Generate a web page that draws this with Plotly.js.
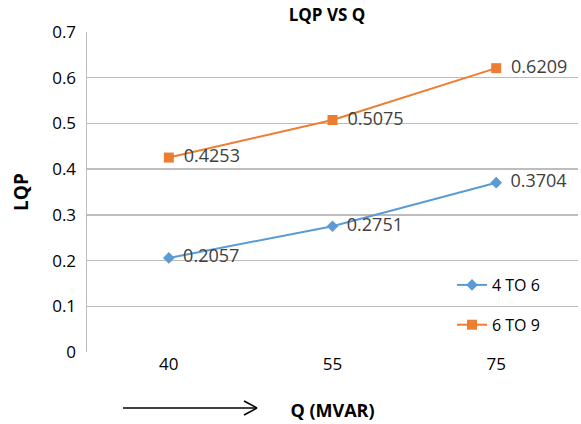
<!DOCTYPE html>
<html><head><meta charset="utf-8">
<script src="https://cdn.plot.ly/plotly-3.0.1.min.js"></script>
<style>html,body{margin:0;padding:0;background:#fff}#c{width:581px;height:424px}</style>
</head><body><div id="c"></div>
<script>
const categories = ["40", "55", "75"];
const series1Name = "4 TO 6";
const series1 = [0.2057, 0.2751, 0.3704];
const series2Name = "6 TO 9";
const series2 = [0.4253, 0.5075, 0.6209];
const yTicks = [0, 0.1, 0.2, 0.3, 0.4, 0.5, 0.6, 0.7];
const yTickText = ["0", "0.1", "0.2", "0.3", "0.4", "0.5", "0.6", "0.7"];

const W = 581, H = 424, mL = 87, mR = 3, mT = 32, mB = 72;
const pw = W - mL - mR, ph = H - mT - mB;
const px = x => (x - mL) / pw;
const py = y => (H - mB - y) / ph;
const fnt = "Open Sans, Liberation Sans, sans-serif";
const lbl = v => "\u00a0\u2009" + v.toFixed(4);

const traces = [
  {x: categories, y: series1, name: series1Name, type: "scatter", mode: "lines+markers+text",
   legendgroup: "a",
   line: {color: "#5B9BD5", width: 2}, marker: {symbol: "diamond", size: 9, color: "#5B9BD5"},
   text: series1.map(lbl), textposition: "middle right",
   textfont: {size: 18, color: "#404040", family: fnt}, cliponaxis: false},
  {x: categories, y: series2, name: series2Name, type: "scatter", mode: "lines+markers+text",
   legendgroup: "b",
   line: {color: "#ED7D31", width: 2}, marker: {symbol: "square", size: 10, color: "#ED7D31"},
   text: series2.map(lbl), textposition: "middle right",
   textfont: {size: 18, color: "#404040", family: fnt}, cliponaxis: false}
];

const layout = {
  width: W, height: H,
  margin: {l: mL, r: mR, t: mT, b: mB},
  paper_bgcolor: "#fff", plot_bgcolor: "#fff",
  font: {family: fnt, color: "#000"},
  title: {text: "<b>LQP VS Q</b>", font: {size: 17, color: "#000", family: fnt},
          xref: "container", x: 327 / W, xanchor: "center", yref: "container", y: 1 - 15 / H, yanchor: "middle"},
  xaxis: {type: "category", range: [-0.5, 2.5], showgrid: false, zeroline: false,
          showline: false, ticks: "", tickfont: {size: 17, color: "#000"},
          title: {text: "<b>Q (MVAR)</b>", font: {size: 18, color: "#000"}, standoff: 30}},
  yaxis: {range: [0, 0.7], tickvals: yTicks, ticktext: yTickText, showgrid: true,
          gridcolor: "#BDBDBD", gridwidth: 1.5, zeroline: false, showline: true,
          linecolor: "#BDBDBD", linewidth: 1.5, ticks: "", ticklen: 0, ticklabelstandoff: 6,
          tickfont: {size: 17, color: "#000"},
          title: {text: "<b>LQP</b>", font: {size: 19, color: "#000"}, standoff: 18}},
  showlegend: true,
  legend: {x: px(452), y: py(268), xanchor: "left", yanchor: "top", bgcolor: "rgba(0,0,0,0)",
           font: {size: 16, color: "#000"}, tracegroupgap: 16, itemwidth: 30},
  shapes: [
    {type: "line", xref: "paper", yref: "paper", x0: px(123), y0: py(408), x1: px(257), y1: py(408),
     line: {color: "#000", width: 1.5}},
    {type: "line", xref: "paper", yref: "paper", x0: px(244), y0: py(401), x1: px(257), y1: py(408),
     line: {color: "#000", width: 1.5}},
    {type: "line", xref: "paper", yref: "paper", x0: px(244), y0: py(415), x1: px(257), y1: py(408),
     line: {color: "#000", width: 1.5}}
  ]
};

Plotly.newPlot("c", traces, layout, {displayModeBar: false, staticPlot: true});
</script></body></html>
